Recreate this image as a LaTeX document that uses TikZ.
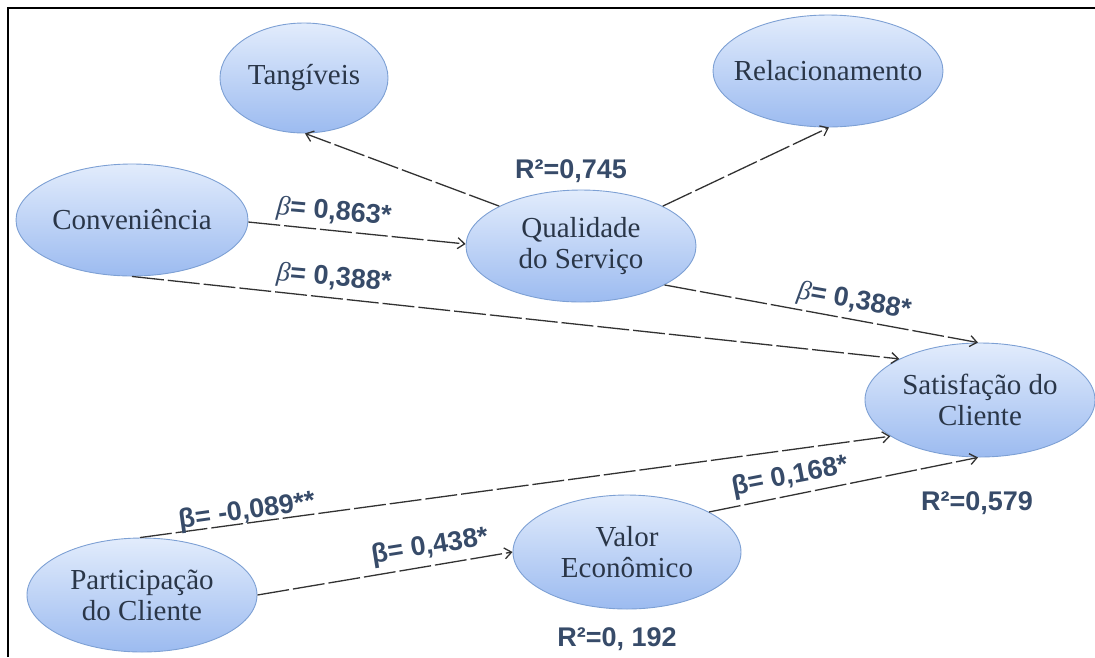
\documentclass[tikz,border=0pt]{standalone}
\usepackage{fontspec}
\setmainfont{Liberation Serif}
\newfontfamily\lblfont{Liberation Sans}
\usetikzlibrary{shapes.geometric,arrows.meta}
\definecolor{nodetext}{RGB}{42,54,72}
\definecolor{lbltext}{RGB}{55,75,105}
\definecolor{ellborder}{RGB}{125,160,212}
\definecolor{elltop}{RGB}{226,236,252}
\definecolor{ellbot}{RGB}{156,187,240}
\definecolor{linegray}{RGB}{50,50,50}
\newcommand\ctext[1]{\makebox[0pt]{#1}}
\newcommand\itb{{\rmfamily\mdseries\itshape β}}
\tikzset{
  latent/.style={ellipse, draw=ellborder, line width=0.9pt, top color=elltop, bottom color=ellbot,
    inner sep=0pt, align=center, text=nodetext, font=\fontsize{29}{31}\selectfont},
  relpath/.style={draw=linegray, line width=1.3pt, dash pattern=on 32pt off 4pt,
    -{Straight Barb[length=7pt,width=11pt]}},
  coef/.style={text=lbltext, font=\lblfont\bfseries\fontsize{27}{29}\selectfont, inner sep=0pt},
}
\begin{document}
\begin{tikzpicture}[x=1pt,y=-1pt]
\useasboundingbox (0,0) rectangle (1095,657);
\draw[line width=2.5pt, black] (8,657) -- (8,8) -- (1095,8);

\node[latent, minimum width=168pt, minimum height=110pt] (tang) at (304,78) {\ctext{Tangíveis}};
\node[latent, minimum width=230pt, minimum height=112pt] (rel) at (828,71) {\ctext{Relacionamento}};
\node[latent, minimum width=232pt, minimum height=112pt] (conv) at (132,220) {\ctext{Conveniência}};
\node[latent, minimum width=230pt, minimum height=112pt] (qual) at (581,246) {\ctext{Qualidade}\\\ctext{do Serviço}};
\node[latent, minimum width=230pt, minimum height=114pt] (sat) at (980,400) {\ctext{Satisfação do}\\\ctext{Cliente}};
\node[latent, minimum width=230pt, minimum height=114pt] (part) at (142,595) {\ctext{Participação}\\\ctext{do Cliente}};
\node[latent, minimum width=228pt, minimum height=114pt] (valor) at (627,552) {\ctext{Valor}\\\ctext{Econômico}};

\draw[relpath] (qual.154) -- (tang.-89);
\draw[relpath] (qual.26) -- (rel.-89);
\draw[relpath] (conv.-1) -- (qual.179);
\draw[relpath] (conv.-90) -- (sat.153);
\draw[relpath] (qual.-25) -- (sat.92);
\draw[relpath] (part.92) -- (sat.202);
\draw[relpath] (part.0) -- (valor.180);
\draw[relpath] (valor.26) -- (sat.-92);

\node[coef] (r1) at (571,171) {R²=0,745};
\node[coef] (r2) at (977,503) {R²=0,579};
\node[coef] (r3) at (617,639) {R²=0, 192};
\node[coef, rotate=-5] (b1) at (334,213) {\itb= 0,863*};
\node[coef, rotate=-5] (b2) at (334,279) {\itb= 0,388*};
\node[coef, rotate=-10] (b3) at (854,302) {\itb= 0,388*};
\node[coef, rotate=8] (b4) at (247,512) {β= -0,089**};
\node[coef, rotate=9] (b5) at (430,547) {β= 0,438*};
\node[coef, rotate=11] (b6) at (790,477) {β= 0,168*};
\end{tikzpicture}
\end{document}
